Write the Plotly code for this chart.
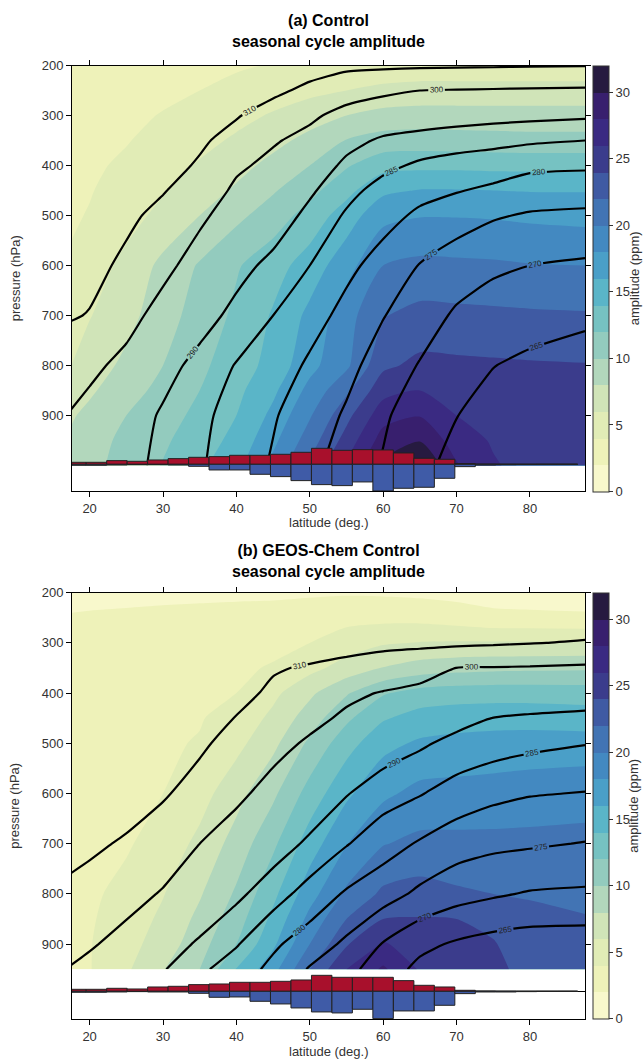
import plotly.graph_objects as go

W, H = 643, 1062
FONT = "Liberation Sans, Arial, sans-serif"

# ---------------- grid ----------------
lat = [17.5, 20, 25, 30, 35, 40, 45, 50, 55, 60, 65, 70, 75, 80, 87.5]

# ---------------- (a) Control ----------------
amp_p_a = [200, 250, 300, 350, 400, 450, 500, 600, 700, 800, 850, 900, 950, 1000]
amp_a = [
    [2.6, 2.7, 3.0, 3.2, 3.5, 3.8, 4.1, 4.4, 4.7, 4.9, 5.0, 5.0, 5.0, 5.0, 5.0],
    [2.8, 2.9, 3.3, 3.6, 4.0, 4.5, 5.0, 5.5, 6.0, 6.4, 6.6, 6.6, 6.6, 6.6, 6.6],
    [3.0, 3.2, 3.6, 4.1, 4.7, 5.4, 6.2, 7.1, 8.0, 8.7, 8.9, 8.9, 8.9, 8.9, 8.9],
    [3.2, 3.4, 3.9, 4.6, 5.4, 6.3, 7.4, 8.6, 10.1, 10.8, 10.9, 10.8, 10.7, 10.6, 10.6],
    [3.4, 3.7, 4.3, 5.2, 6.2, 7.3, 8.6, 10.0, 11.8, 13.3, 13.5, 13.5, 13.4, 13.4, 13.4],
    [3.6, 3.9, 4.7, 5.8, 7.0, 8.3, 9.8, 11.4, 13.4, 15.6, 16.1, 16.1, 16.0, 15.9, 15.9],
    [3.8, 4.1, 5.2, 6.6, 8.0, 9.5, 11.0, 12.8, 15.0, 17.4, 17.9, 17.9, 17.8, 17.6, 17.4],
    [4.2, 4.9, 6.6, 8.5, 10.2, 11.8, 13.2, 14.9, 17.2, 20.0, 20.5, 20.4, 20.3, 20.1, 20.0],
    [5.3, 5.9, 7.3, 9.2, 10.8, 12.4, 14.2, 16.5, 19.2, 21.9, 22.6, 22.5, 22.4, 22.3, 22.2],
    [6.0, 6.9, 8.5, 10.0, 11.6, 13.0, 14.7, 17.4, 19.6, 23.6, 24.5, 24.4, 24.3, 24.2, 24.1],
    [7.0, 7.7, 9.2, 10.6, 12.0, 13.5, 15.6, 18.6, 21.6, 25.3, 26.0, 25.2, 24.9, 24.7, 24.5],
    [7.8, 8.5, 10.0, 11.2, 12.5, 14.0, 16.5, 19.8, 23.4, 27.2, 27.9, 26.0, 25.4, 25.0, 24.8],
    [8.3, 9.0, 10.6, 11.7, 13.0, 14.6, 17.5, 21.0, 24.8, 28.9, 29.9, 27.0, 25.8, 25.2, 25.0],
    [8.6, 9.3, 10.9, 12.1, 13.6, 15.4, 18.6, 22.4, 26.3, 30.4, 32.3, 28.2, 26.2, 25.3, 25.1],
]

theta_p_a = [200, 250, 300, 350, 400, 450, 500, 600, 700, 800, 900, 1000]
theta_a = [
    [342, 340, 336, 332, 328, 324, 318, 314, 312, 311.5, 311.2, 311, 310.8, 310.5, 310.3],
    [331, 329, 325, 321, 317, 314, 312, 307.8, 303.8, 301.7, 300, 299.6, 299.3, 299, 298.7],
    [328.5, 326.5, 322.5, 318.5, 314.5, 310.7, 305.7, 301.5, 297.2, 294.5, 293.2, 292.5, 291.8, 291.3, 290.8],
    [325, 323, 319, 315, 311.5, 306.5, 300.8, 297.5, 292.1, 289, 287.9, 286.9, 286.3, 285.7, 285],
    [323.5, 321.5, 317.5, 313.5, 308.9, 301.4, 297.9, 294.1, 288.6, 286.2, 284.2, 283.2, 282.5, 281, 280.7],
    [321, 319, 315, 310.6, 305.2, 298.4, 295.4, 290.8, 286.5, 283.2, 281.5, 280.3, 279, 277.7, 277.2],
    [318.5, 316.5, 312, 307.3, 301.5, 296.2, 293, 288.6, 284.4, 281.7, 279.1, 277.2, 275.5, 274.5, 274.1],
    [315, 313, 308, 302.2, 296.5, 291.8, 288.6, 285, 281.2, 278.1, 274.8, 272.5, 270.8, 270, 269.3],
    [310.8, 309.5, 302.8, 297, 292.2, 288.5, 285, 282, 278.5, 275.2, 272.3, 269.3, 267.8, 267, 266],
    [303.5, 301.8, 297.8, 292, 288.3, 284.7, 282.8, 279.2, 276.4, 272.8, 269.7, 267.8, 265.1, 264, 262.8],
    [299.5, 297.5, 293, 289.3, 286.1, 283.2, 280.4, 277.6, 274.4, 270.7, 267.4, 265.1, 263.3, 262, 260.5],
    [297.5, 295.5, 291.8, 288.6, 285.5, 282.5, 279.5, 276.1, 273, 269.6, 266.4, 263.3, 261.5, 260, 258.5],
]

# ---------------- (b) GEOS-Chem Control ----------------
amp_p_b = [200, 250, 300, 350, 400, 450, 500, 600, 700, 800, 850, 900, 950]
amp_b = [
    [1.2, 1.25, 1.3, 1.4, 1.45, 1.5, 1.55, 1.7, 1.8, 1.75, 1.6, 1.4, 1.2, 1.15, 1.1],
    [2.2, 2.3, 2.45, 2.6, 2.75, 2.9, 3.0, 3.2, 3.4, 3.45, 3.4, 3.0, 2.5, 2.4, 2.3],
    [2.6, 2.7, 2.9, 3.1, 3.3, 3.5, 3.7, 4.0, 5.0, 5.8, 6.1, 6.2, 6.2, 6.2, 6.2],
    [2.8, 2.9, 3.1, 3.4, 3.6, 3.8, 4.1, 5.4, 6.8, 8.1, 8.9, 9.3, 9.5, 9.6, 9.7],
    [2.9, 3.0, 3.3, 3.5, 3.8, 4.0, 5.5, 7.6, 9.8, 11.8, 12.8, 13.1, 13.2, 13.2, 13.1],
    [3.0, 3.1, 3.4, 3.7, 3.9, 4.6, 6.5, 9.0, 11.6, 13.8, 14.8, 15.1, 15.2, 15.2, 15.0],
    [3.1, 3.2, 3.5, 3.8, 4.1, 5.4, 7.5, 10.4, 13.2, 15.4, 16.3, 16.6, 16.8, 16.9, 16.9],
    [3.2, 3.3, 3.6, 4.0, 5.2, 7.3, 9.6, 12.8, 15.6, 17.6, 18.6, 18.7, 18.8, 19.0, 19.3],
    [3.3, 3.5, 3.8, 4.8, 6.5, 8.8, 11.6, 15.0, 17.9, 19.9, 20.5, 20.5, 20.5, 20.5, 20.5],
    [3.5, 3.7, 4.5, 5.9, 7.8, 10.3, 13.5, 17.2, 20.4, 22.4, 22.8, 22.3, 22.0, 21.8, 21.6],
    [3.6, 3.8, 4.9, 6.4, 8.5, 11.1, 14.5, 18.6, 22.0, 24.0, 24.1, 24.0, 23.6, 22.6, 22.1],
    [3.7, 3.9, 5.3, 6.9, 9.2, 12.0, 15.6, 20.0, 23.8, 26.2, 25.0, 24.5, 24.1, 23.2, 22.5],
    [3.8, 3.9, 5.7, 7.9, 10.0, 14.1, 17.3, 22.0, 26.0, 28.3, 25.8, 25.0, 24.3, 23.6, 22.9],
]

theta_p_b = [200, 250, 300, 350, 400, 450, 500, 600, 700, 800, 900, 950]
theta_b = [
    [344.5, 343, 340, 337, 334, 331, 328, 326, 324.5, 323.5, 323, 322.5, 322, 321.5, 321],
    [338.5, 337, 334, 331, 328, 325, 322, 320, 318.5, 317.5, 317, 316.5, 316, 315.5, 315],
    [332.5, 331, 328, 325, 322, 319, 316, 314, 313.3, 312.2, 312, 311.6, 311, 310.3, 309.3],
    [329.5, 328, 325, 321.5, 318, 314, 310.7, 309.2, 307.4, 305.7, 303.4, 299.9, 299.6, 299.3, 298.6],
    [327, 325.5, 322.5, 319, 315.5, 312.3, 308.6, 304.3, 301.6, 299.5, 297.9, 295.9, 294.7, 294, 293.2],
    [325, 323.5, 320.5, 317, 313.5, 309.7, 305.6, 302.1, 298.7, 296.3, 294.4, 291.8, 289.9, 289.2, 288.6],
    [323, 321.5, 318.5, 315, 311.6, 306.5, 302.5, 298.9, 295.8, 293, 290.8, 288.5, 287.2, 286.2, 285.2],
    [319.5, 318, 315, 311, 306.3, 301.6, 297.3, 294, 290.3, 287.1, 285.3, 282.9, 281.2, 280.3, 279.8],
    [313.5, 312, 308.7, 305, 300, 296.2, 292.7, 289, 285.3, 282.1, 279.5, 277.2, 276.1, 275.6, 274.8],
    [307.5, 306, 303, 299.3, 295.9, 291.2, 287.1, 283, 279.4, 277, 274, 271.8, 270.6, 269.6, 269.2],
    [302, 300.9, 297.2, 293.5, 289, 285.4, 280.8, 277.6, 274.1, 269.7, 266.2, 264.4, 263.2, 262.6, 262.5],
    [299.6, 297.8, 294, 290.4, 286, 282.4, 278.8, 274.6, 271.5, 267.4, 263.8, 262.3, 261.3, 260.8, 260.5],
]

# ---------------- surface histograms ----------------
bar_lat = [18.14, 20.93, 23.72, 26.51, 29.30, 32.09, 34.88, 37.67, 40.46, 43.25,
           46.04, 48.83, 51.62, 54.41, 57.20, 59.99, 62.79, 65.58, 68.37, 71.16,
           73.95, 76.74, 79.53, 82.31, 85.10]
up_a = [6, 6, 11, 9, 13, 17, 21, 23, 27, 27, 30, 36, 48, 42, 44, 43, 34, 18, 15, 2,
        0.5, 0.3, 0.2, 0.2, 0.2]
down_a = [3, 3, 2, 1, 1, 2, 6, 17, 17, 30, 37, 49, 61, 64, 53, 80, 72, 69, 42, 7,
          2, 1, 0.5, 0.2, 0.2]
up_b = [6, 6, 9, 7, 13, 15, 20, 22, 27, 27, 30, 34, 48, 42, 42, 42, 32, 18, 13, 3,
        1, 0.5, 0.3, 0.2, 0.2]
down_b = [3, 3, 2, 1, 2, 2, 6, 18, 17, 30, 38, 50, 62, 65, 54, 82, 59, 59, 42, 7,
          2, 2, 1, 0.3, 0.2]

lat_ticks = [20, 30, 40, 50, 60, 70, 80]
p_ticks = [200, 300, 400, 500, 600, 700, 800, 900]
cb_ticks = [0, 5, 10, 15, 20, 25, 30]
cb_range = (0, 32)
theta_low = (265, 290, 5)
theta_high = (300, 310, 10)
amp_levels = (2, 30, 2)

band_colors = [
    "#f8f8cc", "#eef2b9", "#e1ecb6", "#d0e4b8", "#b2d7bc", "#93cbbe", "#76c2c2",
    "#5ab5c8", "#4a9fc8", "#4389c1", "#4274b4", "#3f5aa3", "#3b3c8c", "#3a2a82",
    "#381f6e", "#261a40",
]

n = len(band_colors)
# contour fills: colour i sits at fraction i/(n-1) of the level map
fill_scale = []
for i, c in enumerate(band_colors):
    fill_scale.append([max(0.0, (i - 0.5) / (n - 1)), c])
    fill_scale.append([min(1.0, (i + 0.5) / (n - 1)), c])
# colour bar: n flat bands evenly spread over cb_range
bar_scale = []
for i, c in enumerate(band_colors):
    bar_scale.append([i / n, c])
    bar_scale.append([(i + 1) / n, c])

# ---------------- layout geometry (pixels) ----------------
X0, X1 = 72, 585
CB_X = 593
PANELS = {
    "a": dict(top=65.5, bottom=491.0, base=464.3, pbot=1051.0),
    "b": dict(top=592.7, bottom=1019.0, base=991.3, pbot=1049.2),
}
UNIT_PX = 0.333  # pixels per histogram unit


def fy(py):
    return 1 - py / H


fig = go.Figure()


def add_panel(tag, xa, ya, yb, amp_p, amp, th_p, th, up, down):
    g = PANELS[tag]
    fig.add_trace(go.Contour(
        x=lat, y=amp_p, z=amp, xaxis=xa, yaxis=ya,
        autocontour=False, showscale=False,
        contours=dict(start=amp_levels[0], end=amp_levels[1], size=amp_levels[2],
                      coloring="fill", showlines=False),
        colorscale=fill_scale, line=dict(width=0, smoothing=0.7),
        hoverinfo="skip",
    ))
    # colour bar carrier (invisible marker holding the amplitude scale)
    fig.add_trace(go.Scatter(
        x=[lat[0]], y=[amp_p[0]], xaxis=xa, yaxis=ya, mode="markers",
        hoverinfo="skip", showlegend=False,
        marker=dict(size=1, opacity=0, color=[amp[0][0]],
                    cmin=cb_range[0], cmax=cb_range[1], colorscale=bar_scale,
                    showscale=True,
                    colorbar=dict(
                        x=CB_X / W, xanchor="left", xpad=0,
                        y=fy(g["top"]), yanchor="top", ypad=0,
                        len=g["bottom"] - g["top"], lenmode="pixels",
                        thickness=16, thicknessmode="pixels",
                        outlinewidth=1, outlinecolor="#333",
                        tickvals=cb_ticks, ticks="outside", ticklen=4, tickcolor="#333",
                        tickfont=dict(size=13, color="#333", family=FONT),
                    )),
    ))
    for lo, hi, step in (theta_low, theta_high):
        fig.add_trace(go.Contour(
            x=lat, y=th_p, z=th, xaxis=xa, yaxis=ya,
            autocontour=False, showscale=False, hoverinfo="skip",
            contours=dict(start=lo, end=hi, size=step, coloring="none",
                          showlabels=True, labelformat=".0f",
                          labelfont=dict(size=8, color="#222", family=FONT)),
            line=dict(color="black", width=2.2, smoothing=0.6),
        ))
    fig.add_trace(go.Bar(
        x=bar_lat, y=up, base=0, width=2.79, xaxis=xa, yaxis=yb,
        marker=dict(color="#a8102c", line=dict(color="#222", width=1)),
        hoverinfo="skip", showlegend=False,
    ))
    fig.add_trace(go.Bar(
        x=bar_lat, y=[-v for v in down], base=0, width=2.79, xaxis=xa, yaxis=yb,
        marker=dict(color="#3f5ba7", line=dict(color="#222", width=1)),
        hoverinfo="skip", showlegend=False,
    ))


add_panel("a", "x", "y", "y2", amp_p_a, amp_a, theta_p_a, theta_a, up_a, down_a)
add_panel("b", "x2", "y3", "y4", amp_p_b, amp_b, theta_p_b, theta_b, up_b, down_b)

axis_common = dict(
    showline=True, linecolor="black", linewidth=1, mirror="ticks",
    ticks="outside", ticklen=5, tickcolor="black", showgrid=False, zeroline=False,
    tickfont=dict(size=13, color="#333", family=FONT), automargin=False,
)


def bar_range(g):
    lo = -(g["bottom"] - g["base"]) / UNIT_PX
    hi = (g["base"] - g["top"]) / UNIT_PX
    return [lo, hi]


layout = dict(
    width=W, height=H, margin=dict(l=0, r=0, t=0, b=0, autoexpand=False),
    paper_bgcolor="white", plot_bgcolor="white",
    barmode="overlay", showlegend=False,
    font=dict(family=FONT, color="#333"),
)
for tag, xa, ya, yb in (("a", "xaxis", "yaxis", "yaxis2"), ("b", "xaxis2", "yaxis3", "yaxis4")):
    g = PANELS[tag]
    yname = "y" if ya == "yaxis" else "y3"
    xname = "x" if xa == "xaxis" else "x2"
    layout[xa] = dict(axis_common, domain=[X0 / W, X1 / W], range=[17.6, 87.5],
                      tickvals=lat_ticks, anchor=yname)
    layout[ya] = dict(axis_common, domain=[fy(g["bottom"]), fy(g["top"])],
                      range=[g["pbot"], 200], tickvals=p_ticks, anchor=xname)
    layout[yb] = dict(overlaying=yname, anchor=xname, range=bar_range(g),
                      showticklabels=False, ticks="", showgrid=False, showline=False,
                      zeroline=True, zerolinecolor="black", zerolinewidth=1.2)

fig.update_layout(**layout)

cx = (X0 + X1) / 2 / W
titles = [
    ("<b>(a) Control</b><br><b>seasonal cycle amplitude</b>", 30.5),
    ("<b>(b) GEOS-Chem Control</b><br><b>seasonal cycle amplitude</b>", 561),
]
for text, py in titles:
    fig.add_annotation(x=cx, y=fy(py), xref="paper", yref="paper", text=text,
                       showarrow=False, xanchor="center", yanchor="middle",
                       font=dict(size=16, color="black", family=FONT))
for tag in ("a", "b"):
    g = PANELS[tag]
    mid = (g["top"] + g["bottom"]) / 2
    fig.add_annotation(x=15 / W, y=fy(mid), xref="paper", yref="paper",
                       text="pressure (hPa)", textangle=-90, showarrow=False,
                       xanchor="center", yanchor="middle",
                       font=dict(size=13, color="#333", family=FONT))
    fig.add_annotation(x=634 / W, y=fy(mid), xref="paper", yref="paper",
                       text="amplitude (ppm)", textangle=-90, showarrow=False,
                       xanchor="center", yanchor="middle",
                       font=dict(size=13, color="#333", family=FONT))
    fig.add_annotation(x=cx, y=fy(g["bottom"] + 32), xref="paper", yref="paper",
                       text="latitude (deg.)", showarrow=False,
                       xanchor="center", yanchor="middle",
                       font=dict(size=13, color="#333", family=FONT))

fig.write_html("out.html")
